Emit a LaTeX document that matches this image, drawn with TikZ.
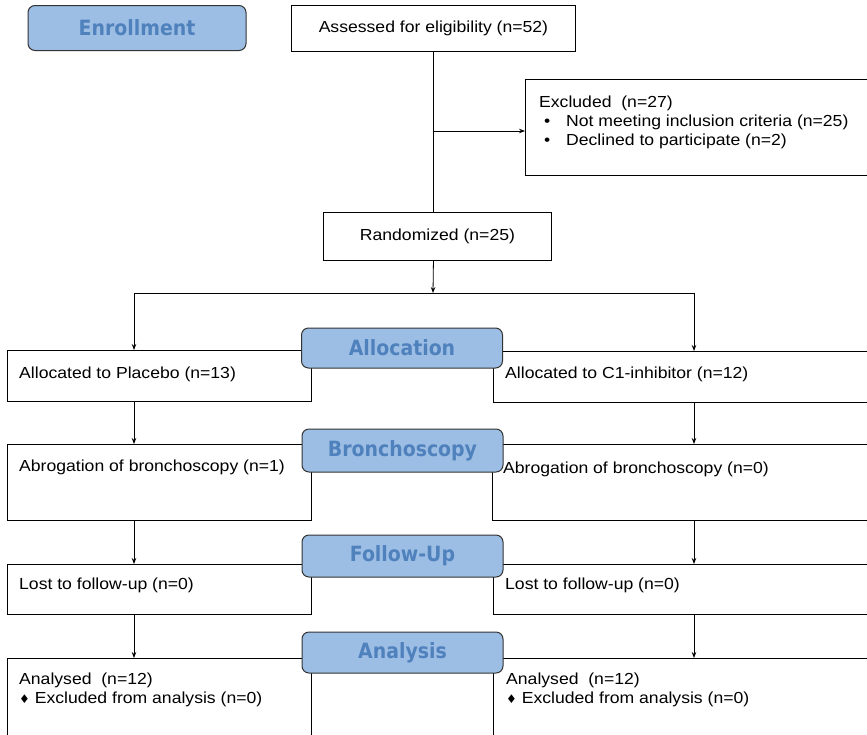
\documentclass[tikz,border=0pt]{standalone}
\usepackage{fontspec}
\setmainfont{Liberation Sans}[FakeStretch=1.1]
\newfontfamily\lblfont{DejaVu Sans Condensed}
\newfontfamily\symfont{DejaVu Sans}
\usetikzlibrary{positioning,arrows.meta}
\definecolor{lblfill}{RGB}{157,190,228}
\definecolor{lbltext}{RGB}{79,129,189}
\tikzset{
  box/.style={draw,line width=0.9pt,anchor=north west,inner sep=0pt,font=\fontsize{16}{19}\selectfont},
  lbl/.style={draw=black!80,line width=1pt,fill=lblfill,rounded corners=7pt,
    text=lbltext,font=\lblfont\bfseries\fontsize{21}{24}\selectfont,
    minimum width=201pt,minimum height=42pt,inner sep=0pt},
  txt/.style={anchor=base west,inner sep=0pt,font=\fontsize{16}{19}\selectfont},
  arr/.style={-{Stealth[length=6pt,width=4.5pt]},line width=0.8pt},
  con/.style={line width=0.8pt}
}
\newcommand{\bul}{\makebox[22pt][l]{\textbullet}}
\newcommand{\dia}{{\symfont\fontsize{12}{12}\selectfont\char"2666}\ }
\begin{document}
\begin{tikzpicture}[x=1pt,y=-1pt]
\useasboundingbox (0,0) rectangle (867,734);
% boxes
\node[box,minimum width=284pt,minimum height=46pt] (assess) at (291,5) {Assessed for eligibility (n=52)};
\node[box,minimum width=343pt,minimum height=96pt] (excl) at (525,79) {};
\node[box,minimum width=228pt,minimum height=48pt] (rand) at (323,212) {Randomized (n=25)};
\node[box,minimum width=304pt,minimum height=51pt] (pl) at (7,350) {};
\node[box,minimum width=375pt,minimum height=51pt] (pr) at (493,351) {};
\node[box,minimum width=304pt,minimum height=76pt] (bl) at (7,444) {};
\node[box,minimum width=376pt,minimum height=76pt] (br) at (492,444) {};
\node[box,minimum width=304pt,minimum height=50pt] (fl) at (7,564) {};
\node[box,minimum width=375pt,minimum height=50pt] (fr) at (493,564) {};
\node[box,minimum width=304pt,minimum height=77pt] (al) at (7,658) {};
\node[box,minimum width=375pt,minimum height=77pt] (ar) at (493,658) {};
% texts
\node[txt] (excl1) at (539,107) {Excluded\ \ (n=27)};
\node[txt] (excl2) at (544,126) {\bul Not meeting inclusion criteria (n=25)};
\node[txt] (excl3) at (544,145) {\bul Declined to participate (n=2)};
\node[txt] (pltxt) at (19,378) {Allocated to Placebo (n=13)};
\node[txt] (prtxt) at (505,378) {Allocated to C1-inhibitor (n=12)};
\node[txt] (bltxt) at (19,471) {Abrogation of bronchoscopy (n=1)};
\node[txt] (brtxt) at (503,473) {Abrogation of bronchoscopy (n=0)};
\node[txt] (fltxt) at (19,589) {Lost to follow-up (n=0)};
\node[txt] (frtxt) at (505,589) {Lost to follow-up (n=0)};
\node[txt] (al1) at (19,684) {Analysed\ \ (n=12)};
\node[txt] (al2) at (19,703) {\dia Excluded from analysis (n=0)};
\node[txt] (ar1) at (506,684) {Analysed\ \ (n=12)};
\node[txt] (ar2) at (506,703) {\dia Excluded from analysis (n=0)};
% connectors
\coordinate (colL) at (134,0);
\coordinate (colR) at (694,0);
\coordinate (exj) at (433,131);
\coordinate (split) at (433,293);
\draw[con] (assess.south) -- (rand.north -| assess.south);
\draw[arr] (exj) -- (exj -| excl.west);
\draw[arr] (rand.south -| assess.south) -- (split);
\draw[con] (split -| colL) -- (split -| colR);
\draw[arr] (split -| colL) -- (pl.north -| colL);
\draw[arr] (split -| colR) -- (pr.north -| colR);
\draw[arr] (pl.south -| colL) -- (bl.north -| colL);
\draw[arr] (pr.south -| colR) -- (br.north -| colR);
\draw[arr] (bl.south -| colL) -- (fl.north -| colL);
\draw[arr] (br.south -| colR) -- (fr.north -| colR);
\draw[arr] (fl.south -| colL) -- (al.north -| colL);
\draw[arr] (fr.south -| colR) -- (ar.north -| colR);
% stage labels
\node[lbl,minimum width=218pt,minimum height=45pt] (enrol) at (137,28) {Enrollment};
\node[lbl,minimum height=40pt] (alloc) at (402,348) {Allocation};
\node[lbl,minimum height=43pt] (bronch) at (402.5,450.5) {Bronchoscopy};
\node[lbl] (follow) at (402.5,556) {Follow-Up};
\node[lbl,minimum height=41pt] (anal) at (402.5,652.5) {Analysis};
\end{tikzpicture}
\end{document}
